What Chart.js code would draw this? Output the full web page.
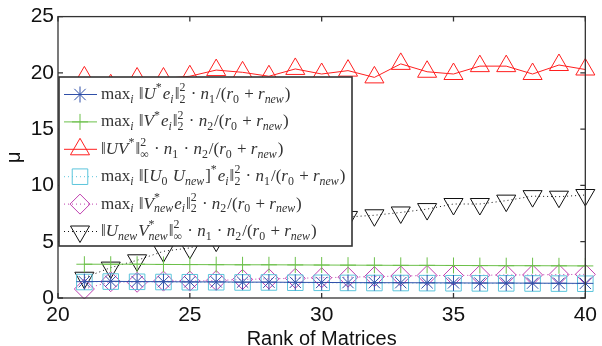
<!DOCTYPE html>
<html>
<head>
<meta charset="utf-8">
<script src="https://cdn.jsdelivr.net/npm/chart.js@4.4.1/dist/chart.umd.min.js"></script>
<style>
  html, body { margin: 0; padding: 0; background: #fff; }
</style>
</head>
<body>
<canvas id="mu" width="602" height="346"></canvas>
<script>
// rank of the matrices (x axis)
var ranks = [21, 22, 23, 24, 25, 26, 27, 28, 29, 30, 31, 32, 33, 34, 35, 36, 37, 38, 39, 40];

// coherence estimates, one array per curve
var uMax = [1.45, 1.48, 1.46, 1.45, 1.43, 1.43, 1.41, 1.41, 1.39, 1.38, 1.37, 1.36, 1.36, 1.35, 1.34, 1.33, 1.33, 1.32, 1.31, 1.30];
var vMax = [3.00, 3.00, 3.00, 2.98, 2.97, 2.96, 2.95, 2.95, 2.94, 2.93, 2.92, 2.91, 2.90, 2.90, 2.89, 2.88, 2.87, 2.87, 2.86, 2.85];
var uvInf = [19.6, 18.9, 19.5, 19.5, 19.7, 20.25, 20.05, 19.7, 20.35, 19.9, 20.2, 19.6, 20.8, 20.1, 19.9, 20.6, 20.6, 19.9, 20.7, 20.3];
var u0New = [1.42, 1.46, 1.44, 1.42, 1.40, 1.40, 1.38, 1.38, 1.36, 1.35, 1.34, 1.33, 1.33, 1.32, 1.31, 1.30, 1.30, 1.29, 1.28, 1.27];
var vNew = [0.80, 1.45, 1.40, 1.50, 1.50, 1.55, 1.65, 1.70, 1.75, 1.80, 1.85, 1.90, 1.95, 2.00, 2.00, 2.02, 2.05, 2.05, 2.08, 2.10];
var uvNewInf = [1.8, 2.7, 3.35, 4.15, 4.45, 5.1, 5.6, 6.1, 6.5, 6.9, 7.2, 7.35, 7.6, 7.9, 8.35, 8.35, 8.65, 9.05, 9.0, 9.15];

var xTicks = [20, 25, 30, 35, 40];
var yTicks = [0, 5, 10, 15, 20, 25];

// legend labels, small TeX-like markup: _{..} subscript, ^{..} superscript
var labels = [
  'max_i \u2016U^*e_i\u2016_2^2 \u00b7 n_1/(r_0 + r_{new})',
  'max_i \u2016V^*e_i\u2016_2^2 \u00b7 n_2/(r_0 + r_{new})',
  '\u2016UV^*\u2016_\u221e^2 \u00b7 n_1 \u00b7 n_2/(r_0 + r_{new})',
  'max_i \u2016[U_0 U_{new}]^*e_i\u2016_2^2 \u00b7 n_1/(r_0 + r_{new})',
  'max_i \u2016V_{new}^*e_i\u2016_2^2 \u00b7 n_2/(r_0 + r_{new})',
  '\u2016U_{new}V_{new}^*\u2016_\u221e^2 \u00b7 n_1 \u00b7 n_2/(r_0 + r_{new})'
];

var colors = ['#2f4fa8', '#6cc04a', '#ff1f1f', '#5cc5dc', '#c040b0', '#111111'];
var styles = ['star', 'cross', 'triangle', 'rect', 'rectRot', 'triangle'];
var rotations = [0, 0, 0, 0, 0, 180];
var radii = [8, 8, 11, 11, 10, 11];
var dashed = [false, false, false, true, true, true];
var series = [uMax, vMax, uvInf, u0New, vNew, uvNewInf];

function pts(vals) {
  return ranks.map(function (r, i) { return { x: r, y: vals[i] }; });
}

var datasets = series.map(function (vals, k) {
  return {
    label: 'curve ' + k,
    data: pts(vals),
    borderColor: colors[k],
    borderWidth: 1,
    borderDash: dashed[k] ? [1, 3] : [],
    pointStyle: styles[k],
    pointRotation: rotations[k],
    pointRadius: radii[k],
    pointBorderColor: colors[k],
    pointBackgroundColor: 'rgba(0,0,0,0)',
    pointBorderWidth: 1,
    tension: 0,
    clip: false
  };
});

var serif = '"Liberation Serif", "DejaVu Serif", serif';

function drawMath(ctx, src, x, y, size) {
  var i = 0, cx = x;
  function put(txt, sz, dy) {
    var parts = txt.match(/max|[A-Za-z]+|[^A-Za-z]+/g) || [];
    var w = 0;
    parts.forEach(function (p) {
      var it = /^[A-Za-z]/.test(p) && p !== 'max';
      ctx.font = (it ? 'italic ' : '') + sz + 'px ' + serif;
      ctx.fillText(p, cx + w, y + dy);
      w += ctx.measureText(p).width;
    });
    return w;
  }
  function group() {
    if (src[i] === '{') {
      var j = src.indexOf('}', i);
      var g = src.slice(i + 1, j);
      i = j + 1;
      return g;
    }
    return src[i++];
  }
  while (i < src.length) {
    var c = src[i];
    if (c === '_' || c === '^') {
      var sc = {};
      while (src[i] === '_' || src[i] === '^') { var k = src[i++]; sc[k] = group(); }
      var w = 0, s = size * 0.7;
      if (sc._ != null) w = Math.max(w, put(sc._, s, size * 0.3));
      if (sc['^'] != null) w = Math.max(w, put(sc['^'], s, -size * 0.38));
      cx += w + 1;
    } else {
      var j = i;
      while (j < src.length && src[j] !== '_' && src[j] !== '^') j++;
      cx += put(src.slice(i, j), size, 0);
      i = j;
    }
  }
  return cx - x;
}

// box with inward ticks, like the original figure
var frame = {
  id: 'frame',
  afterDatasetsDraw: function (chart) {
    var a = chart.chartArea, ctx = chart.ctx, sx = chart.scales.x, sy = chart.scales.y;
    ctx.save();
    ctx.strokeStyle = '#333';
    ctx.lineWidth = 1.3;
    ctx.strokeRect(a.left, a.top, a.right - a.left, a.bottom - a.top);
    ctx.beginPath();
    xTicks.forEach(function (v) {
      var p = sx.getPixelForValue(v);
      ctx.moveTo(p, a.bottom); ctx.lineTo(p, a.bottom - 5);
      ctx.moveTo(p, a.top); ctx.lineTo(p, a.top + 5);
    });
    yTicks.forEach(function (v) {
      var p = sy.getPixelForValue(v);
      ctx.moveTo(a.left, p); ctx.lineTo(a.left + 5, p);
      ctx.moveTo(a.right, p); ctx.lineTo(a.right - 5, p);
    });
    ctx.stroke();
    ctx.restore();
  }
};

var mathLegend = {
  id: 'mathLegend',
  afterDraw: function (chart) {
    var a = chart.chartArea, ctx = chart.ctx;
    var left = a.left + 1, top = 77, right = 352, bottom = 246;
    ctx.save();
    ctx.fillStyle = '#fff';
    ctx.fillRect(left, top, right - left, bottom - top);
    ctx.strokeStyle = '#333';
    ctx.lineWidth = 1.6;
    ctx.strokeRect(left, top, right - left, bottom - top);
    labels.forEach(function (txt, k) {
      var cy = 94.5 + k * 27.4;
      ctx.strokeStyle = colors[k];
      ctx.lineWidth = 1;
      ctx.setLineDash(dashed[k] ? [1, 3] : []);
      ctx.beginPath();
      ctx.moveTo(left + 5, cy);
      ctx.lineTo(left + 38, cy);
      ctx.stroke();
      ctx.setLineDash([]);
      ctx.fillStyle = 'rgba(0,0,0,0)';
      Chart.helpers.drawPoint(ctx, {
        pointStyle: styles[k], rotation: rotations[k], radius: radii[k], borderWidth: 1
      }, left + 21, cy);
      ctx.fillStyle = '#333';
      ctx.textBaseline = 'middle';
      drawMath(ctx, txt, left + 42, cy, 17);
    });
    ctx.restore();
  }
};

new Chart(document.getElementById('mu'), {
  type: 'line',
  data: { datasets: datasets },
  plugins: [frame, mathLegend],
  options: {
    responsive: false,
    animation: false,
    layout: { padding: { top: 14, right: 12, left: 0, bottom: 0 } },
    plugins: { legend: { display: false }, tooltip: { enabled: false } },
    scales: {
      x: {
        type: 'linear', min: 20, max: 40,
        afterBuildTicks: function (s) { s.ticks = xTicks.map(function (v) { return { value: v }; }); },
        afterFit: function (s) { s.height = 48; },
        grid: { display: false, drawTicks: false },
        border: { display: false },
        ticks: { padding: 5, maxRotation: 0, autoSkip: false, color: '#111', font: { family: 'Liberation Sans', size: 21 } },
        title: { display: true, text: 'Rank of Matrices', color: '#111', padding: { top: -3, bottom: -3 }, font: { family: 'Liberation Sans', size: 20, lineHeight: 1 } }
      },
      y: {
        min: 0, max: 25,
        afterBuildTicks: function (s) { s.ticks = yTicks.map(function (v) { return { value: v }; }); },
        afterFit: function (s) { s.width = 58; },
        grid: { display: false, drawTicks: false },
        border: { display: false },
        ticks: { padding: 4, color: '#111', font: { family: 'Liberation Sans', size: 21 } },
        title: { display: true, text: 'μ', color: '#111', padding: { top: 2, bottom: 0 }, font: { family: 'Liberation Sans', size: 20 } }
      }
    }
  }
});
</script>
</body>
</html>
